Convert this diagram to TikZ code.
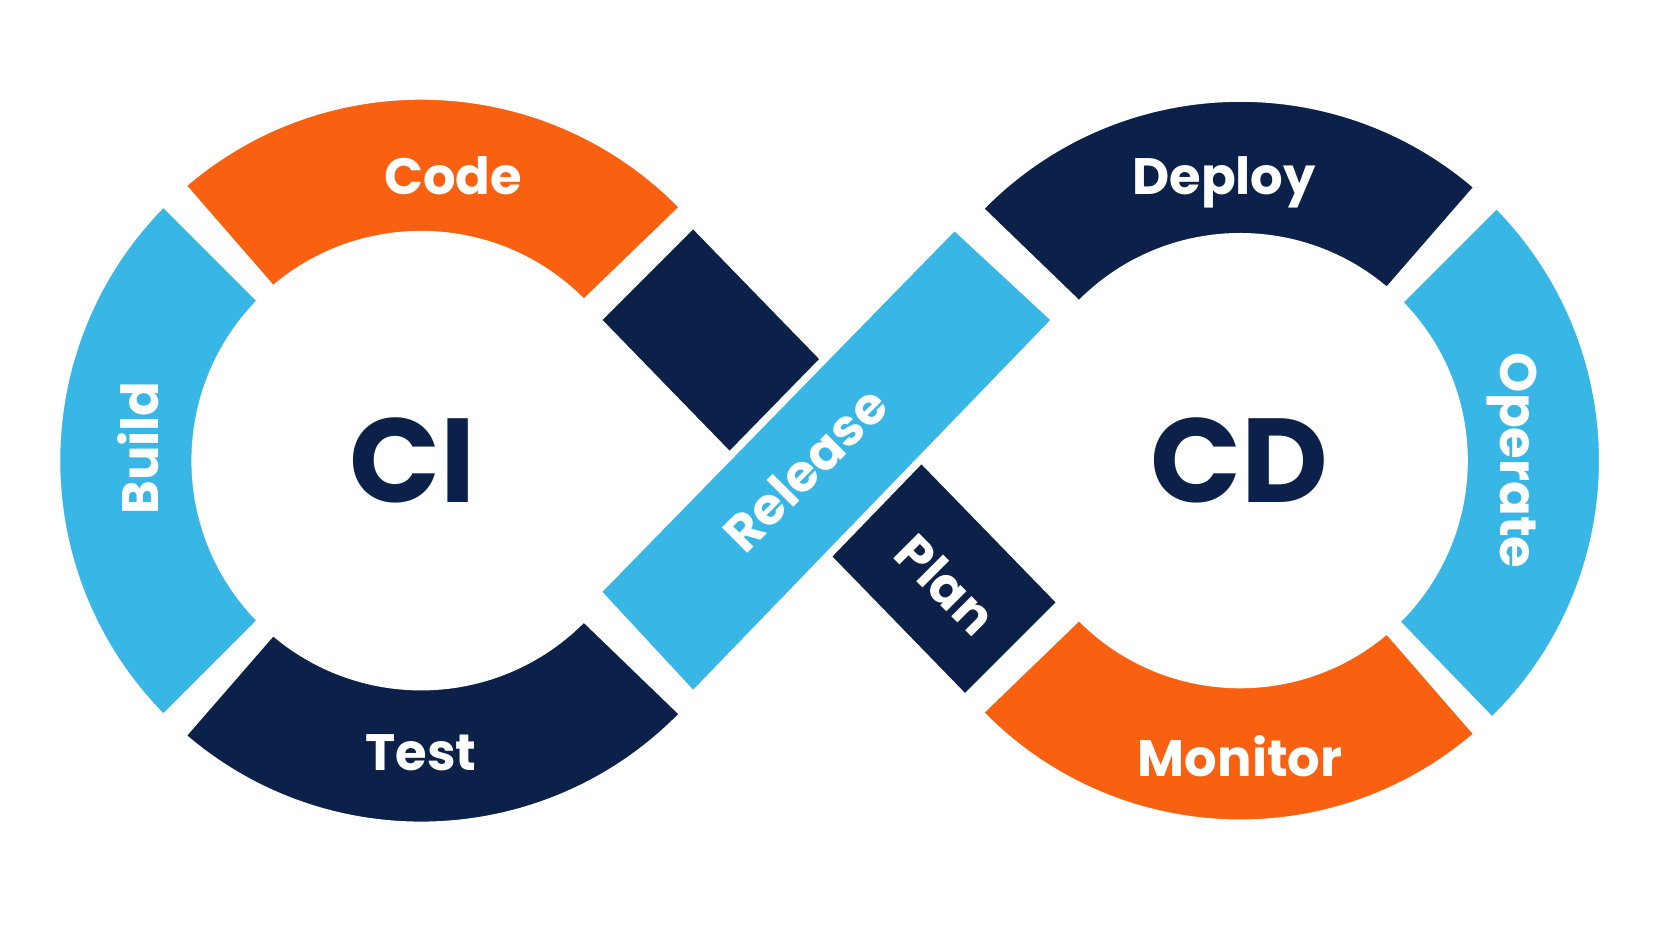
\documentclass[tikz,border=0pt]{standalone}
\usepackage{fontspec}
\setmainfont{Poppins}
\usetikzlibrary{calc}
\definecolor{org}{HTML}{F96010}
\definecolor{nav}{HTML}{0B2149}
\definecolor{lbl}{HTML}{38B6E6}
\newcommand\seg[6]{\filldraw[fill=#6,draw=white,line width=3.5pt,line join=round] ($(#1)+(#2:#4)$) arc[start angle=#2,end angle=#3,radius=#4] -- ($(#1)+(#3:#5)$) arc[start angle=#3,end angle=#2,radius=#5] -- cycle;}
\begin{document}
\begin{tikzpicture}[x=0.5pt,y=0.5pt,
  lab/.style={text=white,font=\bfseries\fontsize{24}{24}\selectfont,inner sep=0},
  big/.style={text=nav,font=\bfseries\fontsize{56}{56}\selectfont,inner sep=0}]
\useasboundingbox (0,0) rectangle (1568,882);
\fill[white] (0,0) rectangle (1568,882);
\coordinate (L) at (395,450);
\coordinate (R) at (1163,450);
\filldraw[fill=nav,draw=white,line width=3.5pt,line join=round] (650,672) -- (995,317) -- (905,227) -- (560,582) -- cycle;
\seg{L}{44}{131}{342}{212}{org}
\seg{L}{135}{225}{342}{212}{lbl}
\seg{L}{229}{316}{342}{212}{nav}
\seg{R}{49}{136}{340}{210}{nav}
\seg{R}{-46}{45}{340}{210}{lbl}
\seg{R}{224}{311}{340}{210}{org}
\filldraw[fill=lbl,draw=white,line width=3.5pt,line join=round] (560,327) -- (650,230) -- (990,582) -- (895,670) -- cycle;
\node[lab] (code) at (425,717) {Code};
\node[lab,rotate=90] (build) at (130,462) {Build};
\node[lab] (test) at (395,176) {Test};
\node[lab] (deploy) at (1148,711) {Deploy};
\node[lab,rotate=-90] (operate) at (1418,450) {Operate};
\node[lab] (monitor) at (1163,173) {Monitor};
\node[lab,rotate=45] (release) at (755,442) {Release};
\node[lab,rotate=-45] (plan) at (887,334) {Plan};
\node[big] (ci) at (387,450) {CI};
\node[big] (cd) at (1162,450) {CD};
\end{tikzpicture}
\end{document}
